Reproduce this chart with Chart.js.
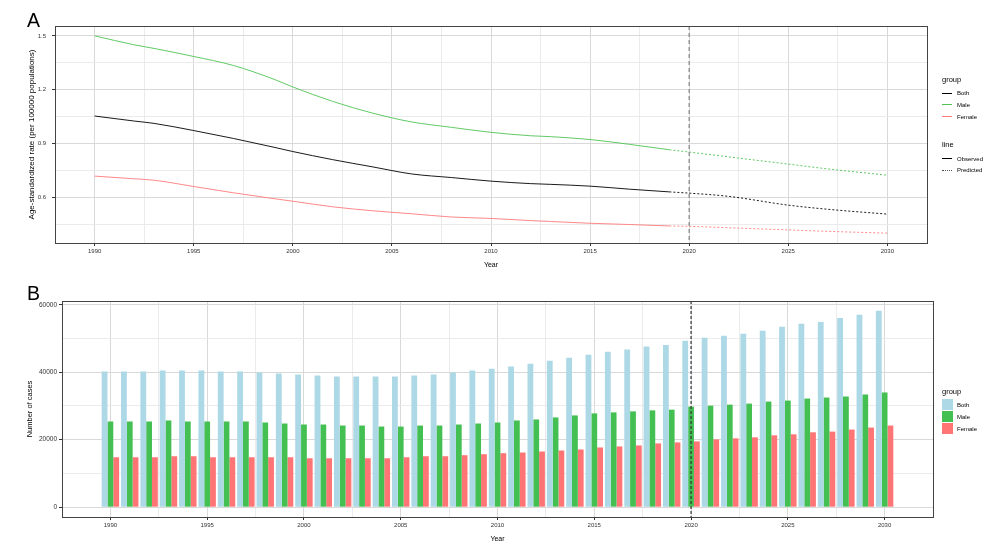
<!DOCTYPE html>
<html>
<head>
<meta charset="utf-8">
<script src="https://cdn.jsdelivr.net/npm/chart.js@4.4.1/dist/chart.umd.min.js"></script>
<style>
  body { margin: 0; background: #fff; font-family: "Liberation Sans", Arial, sans-serif; }
  #wrap { position: relative; width: 1007px; height: 545px; overflow: hidden; }
  canvas { position: absolute; left: 0; }
  .tag { position: absolute; font-size: 19.5px; line-height: 20px; color: #000; }
  .lg { position: absolute; color: #000; white-space: nowrap; }
  .lg-title { font-size: 7.5px; line-height: 10px; }
  .lg-item { font-size: 6px; line-height: 8px; }
  .swatch-line { position: absolute; width: 10px; height: 0; border-top: 1px solid #000; }
  .swatch-box { position: absolute; width: 11px; height: 11px; }
</style>
</head>
<body>
<div id="wrap">
  <canvas id="rateChart" width="1007" height="272" style="top:0"></canvas>
  <canvas id="caseChart" width="1007" height="273" style="top:272px"></canvas>

  <div class="tag" style="left:27px;top:10px">A</div>
  <div class="tag" style="left:27px;top:283px">B</div>

  <!-- legend, panel A -->
  <div class="lg lg-title" style="left:942px;top:75px">group</div>
  <div class="swatch-line" style="left:942px;top:92.5px;border-color:#000"></div>
  <div class="lg lg-item" style="left:957px;top:89px">Both</div>
  <div class="swatch-line" style="left:942px;top:104px;border-color:#4fc453"></div>
  <div class="lg lg-item" style="left:957px;top:100.5px">Male</div>
  <div class="swatch-line" style="left:942px;top:116px;border-color:#ff7b7b"></div>
  <div class="lg lg-item" style="left:957px;top:112.5px">Female</div>

  <div class="lg lg-title" style="left:942px;top:140px">line</div>
  <div class="swatch-line" style="left:942px;top:158px;border-color:#000"></div>
  <div class="lg lg-item" style="left:957px;top:154.5px">Observed</div>
  <div class="swatch-line" style="left:942px;top:170px;border-top:1px dotted #555"></div>
  <div class="lg lg-item" style="left:957px;top:166px">Predicted</div>

  <!-- legend, panel B -->
  <div class="lg lg-title" style="left:942px;top:387px">group</div>
  <div class="swatch-box" style="left:942px;top:399px;background:#add8e6"></div>
  <div class="lg lg-item" style="left:957px;top:401px">Both</div>
  <div class="swatch-box" style="left:942px;top:411px;background:#44bf52"></div>
  <div class="lg lg-item" style="left:957px;top:413px">Male</div>
  <div class="swatch-box" style="left:942px;top:423px;background:#ff7575"></div>
  <div class="lg lg-item" style="left:957px;top:425px">Female</div>
</div>

<script>
// ---- panel A: age-standardized rate ----
const obsYears = [1990, 1992, 1993, 1995, 1997, 1999, 2000, 2002, 2004, 2006, 2008, 2010, 2012, 2013, 2015, 2017, 2019];
const obsBoth = [1.053, 1.025, 1.012, 0.972, 0.928, 0.880, 0.855, 0.810, 0.770, 0.730, 0.710, 0.690, 0.676, 0.672, 0.662, 0.645, 0.630];
const obsMale = [1.500, 1.450, 1.430, 1.385, 1.335, 1.260, 1.215, 1.135, 1.070, 1.020, 0.990, 0.962, 0.943, 0.938, 0.922, 0.895, 0.865];
const obsFemale = [0.718, 0.703, 0.695, 0.660, 0.625, 0.593, 0.578, 0.547, 0.525, 0.508, 0.490, 0.482, 0.470, 0.465, 0.455, 0.448, 0.440];

const predYears = [2019, 2020, 2022, 2025, 2027, 2030];
const predBoth = [0.630, 0.623, 0.605, 0.556, 0.533, 0.506];
const predMale = [0.865, 0.852, 0.825, 0.785, 0.758, 0.723];
const predFemale = [0.440, 0.438, 0.430, 0.418, 0.410, 0.400];

// ---- panel B: number of cases ----
const caseYears = [1990, 1991, 1992, 1993, 1994, 1995, 1996, 1997, 1998, 1999,
  2000, 2001, 2002, 2003, 2004, 2005, 2006, 2007, 2008, 2009,
  2010, 2011, 2012, 2013, 2014, 2015, 2016, 2017, 2018, 2019,
  2020, 2021, 2022, 2023, 2024, 2025, 2026, 2027, 2028, 2029, 2030];
const casesBoth = [40200, 40200, 40200, 40500, 40500, 40500, 40200, 40200, 39900, 39600,
  39300, 39000, 38700, 38700, 38700, 38700, 39000, 39300, 39900, 40500,
  41000, 41700, 42500, 43400, 44300, 45200, 46100, 46700, 47600, 48100,
  49300, 50200, 50800, 51400, 52300, 53500, 54400, 54900, 56100, 57000, 58200];
const casesMale = [25400, 25400, 25400, 25700, 25400, 25400, 25400, 25400, 25100, 24800,
  24500, 24500, 24200, 24200, 23900, 23900, 24200, 24200, 24500, 24800,
  25100, 25700, 26000, 26600, 27200, 27800, 28100, 28400, 28700, 28900,
  29800, 30100, 30400, 30700, 31300, 31600, 32200, 32500, 32800, 33400, 34000];
const casesFemale = [14800, 14800, 14800, 15100, 15100, 14800, 14800, 14800, 14800, 14800,
  14500, 14500, 14500, 14500, 14500, 14800, 15100, 15100, 15400, 15700,
  16000, 16200, 16500, 16800, 17100, 17700, 18000, 18300, 18900, 19200,
  19500, 20100, 20400, 20700, 21300, 21600, 22200, 22400, 23000, 23600, 24200];

// ---- tick positions (majors get labels, the rest are minor grid) ----
const yearTicks = [1990, 1992.5, 1995, 1997.5, 2000, 2002.5, 2005, 2007.5, 2010, 2012.5,
  2015, 2017.5, 2020, 2022.5, 2025, 2027.5, 2030];
const yearLabels = [1990, 1995, 2000, 2005, 2010, 2015, 2020, 2025, 2030];
const rateTicks = [0.45, 0.6, 0.75, 0.9, 1.05, 1.2, 1.35, 1.5];
const rateLabels = [0.6, 0.9, 1.2, 1.5];
const caseTicks = [0, 10000, 20000, 30000, 40000, 50000, 60000];
const caseLabels = [0, 20000, 40000, 60000];

const splitYear = 2020;

const FONT = "'Liberation Sans', Arial, sans-serif";
const MAJOR = "#d9d9d9";
const MINOR = "#e9e9e9";

const pts = (xs, ys) => xs.map((x, i) => ({ x, y: ys[i] }));
const isMajor = (list, v) => list.some((m) => Math.abs(m - v) < 1e-9);

// panel frame + dashed marker at 2020
const framePlugin = {
  id: "frame",
  afterDatasetsDraw(chart, args, opts) {
    const { ctx, chartArea: a, scales } = chart;
    const x = scales.x.getPixelForValue(splitYear);
    ctx.save();
    ctx.strokeStyle = opts.markColor;
    ctx.lineWidth = opts.markWidth;
    ctx.setLineDash(opts.markDash);
    ctx.beginPath();
    ctx.moveTo(x, a.top);
    ctx.lineTo(x, a.bottom);
    ctx.stroke();
    ctx.setLineDash([]);
    ctx.strokeStyle = "#444";
    ctx.lineWidth = 1;
    ctx.strokeRect(Math.round(a.left) + 0.5, Math.round(a.top) + 0.5,
      Math.round(a.right - a.left), Math.round(a.bottom - a.top));
    ctx.restore();
  }
};

// shared grid/tick styling for one axis
function axisStyle(ticks, labels, fmt, pad, size) {
  return {
    border: { display: false },
    grid: {
      offset: false,
      color: (c) => (c.tick && isMajor(labels, c.tick.value) ? MAJOR : MINOR),
      lineWidth: (c) => (c.tick && isMajor(labels, c.tick.value) ? 1 : 0.9),
      tickColor: (c) => (c.tick && isMajor(labels, c.tick.value) ? "#333" : "rgba(0,0,0,0)"),
      tickLength: 3
    },
    afterBuildTicks: (s) => { s.ticks = ticks.map((v) => ({ value: v })); },
    ticks: {
      autoSkip: false,
      maxRotation: 0,
      padding: pad,
      color: "#333",
      font: { family: FONT, size: size },
      callback: (v) => (isMajor(labels, v) ? fmt(v) : "")
    }
  };
}

function xAxis(min, max, height, titlePad) {
  return Object.assign(axisStyle(yearTicks, yearLabels, (v) => String(v), 2, 6), {
    type: "linear",
    min, max,
    offset: false,
    title: {
      display: true, text: "Year", color: "#000",
      font: { family: FONT, size: 7 },
      padding: { top: 0, bottom: titlePad }
    },
    afterFit: (s) => { s.height = height; }
  });
}

new Chart(document.getElementById("rateChart"), {
  type: "line",
  data: {
    datasets: [
      { label: "Both", data: pts(obsYears, obsBoth), borderColor: "#000" },
      { label: "Male", data: pts(obsYears, obsMale), borderColor: "#4fc453" },
      { label: "Female", data: pts(obsYears, obsFemale), borderColor: "#ff7b7b" },
      { label: "Both (predicted)", data: pts(predYears, predBoth), borderColor: "#000", borderDash: [2, 2] },
      { label: "Male (predicted)", data: pts(predYears, predMale), borderColor: "#4fc453", borderDash: [2, 2] },
      { label: "Female (predicted)", data: pts(predYears, predFemale), borderColor: "#ff7b7b", borderDash: [2, 2] }
    ]
  },
  options: {
    responsive: false,
    animation: false,
    layout: { padding: { left: 27, right: 80, top: 26, bottom: 0 } },
    elements: {
      point: { radius: 0 },
      line: { borderWidth: 0.9, cubicInterpolationMode: "monotone" }
    },
    plugins: {
      legend: { display: false },
      tooltip: { enabled: false },
      frame: { markColor: "#8a8a8a", markWidth: 1.3, markDash: [4, 3] }
    },
    scales: {
      x: xAxis(1988, 2032, 29, 3),
      y: Object.assign(axisStyle(rateTicks, rateLabels, (v) => v.toFixed(1), 6, 6), {
        min: 0.345, max: 1.555,
        title: {
          display: true, text: "Age-standardized rate (per 100000 populations)", color: "#000",
          font: { family: FONT, size: 8 },
          padding: { top: 0, bottom: 0 }
        },
        afterFit: (s) => { s.width = 28; }
      })
    }
  },
  plugins: [framePlugin]
});

new Chart(document.getElementById("caseChart"), {
  type: "bar",
  data: {
    datasets: [
      { label: "Both", data: pts(caseYears, casesBoth), backgroundColor: "#add8e6" },
      { label: "Male", data: pts(caseYears, casesMale), backgroundColor: "#44bf52" },
      { label: "Female", data: pts(caseYears, casesFemale), backgroundColor: "#ff7575" }
    ]
  },
  options: {
    responsive: false,
    animation: false,
    layout: { padding: { left: 25, right: 74, top: 29, bottom: 0 } },
    datasets: { bar: { categoryPercentage: 0.9, barPercentage: 1.0, borderWidth: 0 } },
    plugins: {
      legend: { display: false },
      tooltip: { enabled: false },
      frame: { markColor: "#333", markWidth: 1.2, markDash: [3, 2] }
    },
    scales: {
      x: xAxis(1987.5, 2032.5, 28, 2),
      y: Object.assign(axisStyle(caseTicks, caseLabels, (v) => String(v), 2, 6.5), {
        min: -2910, max: 61110,
        beginAtZero: false,
        title: {
          display: true, text: "Number of cases", color: "#000",
          font: { family: FONT, size: 7.5 },
          padding: { top: 0, bottom: 0 }
        },
        afterFit: (s) => { s.width = 37; }
      })
    }
  },
  plugins: [framePlugin]
});
</script>
</body>
</html>
